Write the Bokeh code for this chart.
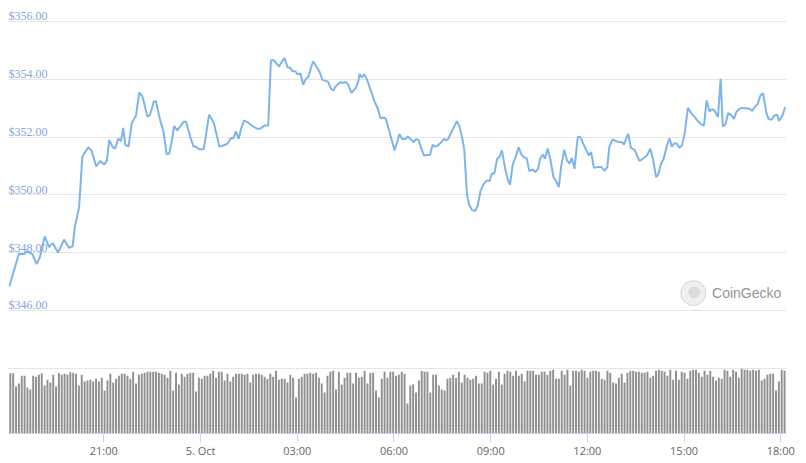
from bokeh.plotting import figure
from bokeh.models import (Range1d, FixedTicker, Grid, LabelSet, ColumnDataSource, Label)
from bokeh.embed import file_html
from bokeh.resources import INLINE
import numpy as np

# ---------------- data ----------------
# minutes after 18:00 on 4 Oct
price_minutes = [4,22,32,37,47,55,61,70,78,85,95,106,115,122,126,134,140,151,157,166,
    173,181,186,190,196,201,207,212,216,220,226,232,240,246,252,261,266,273,277,285,
    291,297,302,306,311,317,328,333,341,347,351,357,366,376,385,395,401,410,417,421,
    426,431,436,441,449,455,465,472,479,486,491,496,506,516,522,527,531,536,541,546,
    551,555,561,567,570,575,581,587,597,603,607,612,620,624,631,635,641,649,654,656,
    660,665,670,677,683,690,695,701,705,711,721,726,730,736,741,746,750,757,761,766,
    770,776,783,787,792,796,801,808,813,817,821,829,837,842,848,851,856,860,865,871,
    876,881,887,893,898,902,907,912,916,921,927,932,936,941,946,952,957,962,967,972,
    978,983,988,992,997,1001,1006,1011,1017,1022,1027,1031,1037,1042,1047,1051,1056,1062,1067,1071,
    1078,1083,1087,1092,1099,1106,1112,1117,1121,1127,1133,1140,1145,1148,1152,1156,1161,1168,1177,1183,
    1191,1197,1202,1208,1212,1217,1222,1228,1233,1237,1242,1247,1251,1256,1261,1267,1273,1280,1287,1292,
    1297,1302,1307,1312,1316,1323,1328,1332,1337,1342,1348,1353,1357,1363,1369,1375,1382,1387,1391,1397,
    1402,1407,1413,1417,1423,1428,1433,1437,1444,1448]

price_usd = [346.83,347.96,347.95,348.04,347.95,347.6,347.85,348.56,348.19,348.33,
    348.0,348.45,348.17,348.22,348.88,349.57,351.33,351.65,351.54,350.98,
    351.17,351.05,351.2,351.9,351.67,351.6,351.94,351.86,352.32,351.74,
    351.67,352.48,352.75,353.55,353.4,352.71,352.77,353.23,353.24,352.57,
    352.2,351.4,351.44,351.82,352.38,352.23,352.52,352.54,352.0,351.67,
    351.67,351.58,351.58,352.78,352.48,351.67,351.7,351.77,351.97,351.96,
    352.2,351.94,352.32,352.57,352.5,352.4,352.29,352.3,352.4,352.4,
    354.65,354.67,354.44,354.74,354.42,354.4,354.28,354.28,354.17,354.2,
    353.81,353.98,354.1,354.48,354.62,354.45,354.28,353.98,353.92,353.67,
    353.61,353.77,353.9,353.88,353.9,353.81,353.53,353.7,353.96,354.19,
    354.07,354.17,353.98,353.61,353.27,352.98,352.65,352.68,352.63,352.23,
    351.54,351.82,352.11,351.92,351.93,352.02,351.94,351.82,351.93,351.9,
    351.65,351.36,351.38,351.38,351.73,351.67,351.7,351.82,351.94,351.88,
    351.94,352.25,352.55,352.37,351.88,351.54,349.98,349.66,349.48,349.44,
    349.63,350.13,350.38,350.5,350.48,350.73,350.75,351.25,351.3,351.54,
    350.9,350.52,350.35,351.05,351.29,351.65,351.4,351.3,351.27,350.82,
    350.88,350.79,350.9,351.25,351.4,351.25,351.6,351.25,350.61,350.46,
    350.27,350.96,351.56,351.19,351.08,351.28,350.9,352.0,352.0,351.82,
    351.54,351.36,351.48,350.94,350.96,350.96,350.84,350.96,351.67,351.92,
    351.86,351.82,351.82,351.74,351.94,352.11,351.63,351.56,351.17,351.25,
    351.36,351.6,351.25,350.61,350.71,351.08,351.25,351.71,351.96,351.67,
    351.79,351.77,351.63,351.71,352.11,353.01,352.83,352.69,352.52,352.44,
    352.4,353.27,352.89,352.96,352.94,352.69,354.02,352.37,352.44,352.83,
    352.75,352.63,352.86,352.98,353.01,353.0,352.98,352.9,353.03,353.15,
    353.44,353.52,352.86,352.63,352.6,352.75,352.77,352.56,352.79,353.04]

# trading volume (relative units), read left to right in four stretches
volume_evening = [60.3,60.3,47,50,58,58,46,44,58,57,59,60.3,48,54,51,59,47,60.3,59,60,
    59,61.3,61,60,48,59,52,53,54,52,55,52,56,43,53,60,51,55,58,60,
    60,58,55,62,50,59,60,61,62,62,62,62,61,60,59,56,63,43,61,49,
    60,57,60,61,61,42,56,55,58]
volume_night = [58,60,63,56,62,62,53,60,52,57,60,60,60,59,60,51,59,60,60,59,
    57,55,60,57,63,54,55,55,51,59,56,36,55,57,60,60,61,60,61,56,
    50,41,58,62,63,44,62,49,56,61,61,50,61,56,57,63,50,61,61,43,
    36,55,62,56,62,62,58]
volume_morning = [59,62,60,30,48,49,41,53,63,62,62,41,59,59,48,44,43,55,56,59,
    56,62,51,59,56,54,55,58,50,50,62,61,63,49,55,62,49,60,63,62,
    58,63,58,60,52,63,63,63,59,59,62,62,59,63,64,55,55,63,59,64,
    48,63,63,62,64,63,56,62]
volume_afternoon = [63,63,62,55,54,63,61,51,50,56,60,51,61,63,63,62,62,61,61,62,
    56,58,63,64,63,62,58,64,54,63,54,62,61,55,63,64,64,61,57,63,
    59,63,57,53,56,55,64,63,57,64,62,56,65,64,64,63,64,63,64,53,
    55,59,60,60,43,52,64,63]

price_ticks = [346, 348, 350, 352, 354, 356]
price_tick_labels = ["$346.00", "$348.00", "$350.00", "$352.00", "$354.00", "$356.00"]
time_ticks = [180, 360, 540, 720, 900, 1080, 1260, 1440]
time_tick_labels = ["21:00", "5. Oct", "03:00", "06:00", "09:00", "12:00", "15:00", "18:00"]

volume = volume_evening + volume_night + volume_morning + volume_afternoon
volume_minutes = list(np.linspace(6, 1447, len(volume)))

# ---------------- figure ----------------
p = figure(width=806, height=460, output_backend="svg", toolbar_location=None,
           x_range=Range1d(2.6, 1450.6), y_range=Range1d(341.74, 356.45),
           y_axis_location=None, x_axis_location="below",
           min_border_left=8, min_border_right=20, min_border_top=8, min_border_bottom=0)
p.outline_line_color = None
p.xgrid.visible = False
p.background_fill_color = "white"
p.border_fill_color = "white"

p.extra_y_ranges = {"vol": Range1d(0, 426)}

grid = Grid(dimension=1, ticker=FixedTicker(ticks=price_ticks),
            grid_line_color="#e6e6e6", grid_line_width=1)
p.add_layout(grid)

# x axis
ax = p.xaxis[0]
ax.ticker = FixedTicker(ticks=time_ticks)
ax.major_label_overrides = {t: l for t, l in zip(time_ticks, time_tick_labels)}
ax.axis_line_color = "#ccd6eb"
ax.major_tick_line_color = "#ccd6eb"
ax.major_tick_in = 0
ax.major_tick_out = 9
ax.minor_tick_line_color = None
ax.major_label_text_color = "#666666"
ax.major_label_text_font = "Open Sans"
ax.major_label_text_font_size = "11px"
ax.major_label_standoff = 0

# volume bars
p.vbar(x=volume_minutes, top=volume, bottom=0, width=3.6, y_range_name="vol",
       fill_color="#909090", line_color=None)

# price line
p.line(x=price_minutes, y=price_usd, line_color="#7cb5ec", line_width=2)

# y labels, inside plot above gridlines
lab_src = ColumnDataSource(dict(x=[2.6] * len(price_ticks),
                                y=[t + 0.035 for t in price_ticks],
                                text=price_tick_labels))
p.add_layout(LabelSet(x="x", y="y", text="text", source=lab_src,
                      text_align="left", text_baseline="alphabetic",
                      text_color="#88a4dc", text_font="Open Sans",
                      text_font_size="12px"))

# watermark
p.scatter(x=[1277], y=[346.6], size=25, marker="circle",
          fill_color="#f0f0f0", line_color="#d6d6d6", line_width=1)
p.scatter(x=[1279], y=[346.62], size=12, marker="circle",
          fill_color="#dcdcdc", line_color=None)
p.add_layout(Label(x=1312, y=346.6, text="CoinGecko", text_align="left",
                   text_baseline="middle", text_color="#949494",
                   text_font="Liberation Sans", text_font_size="14px"))

open("out.html", "w").write(file_html(p, INLINE))
